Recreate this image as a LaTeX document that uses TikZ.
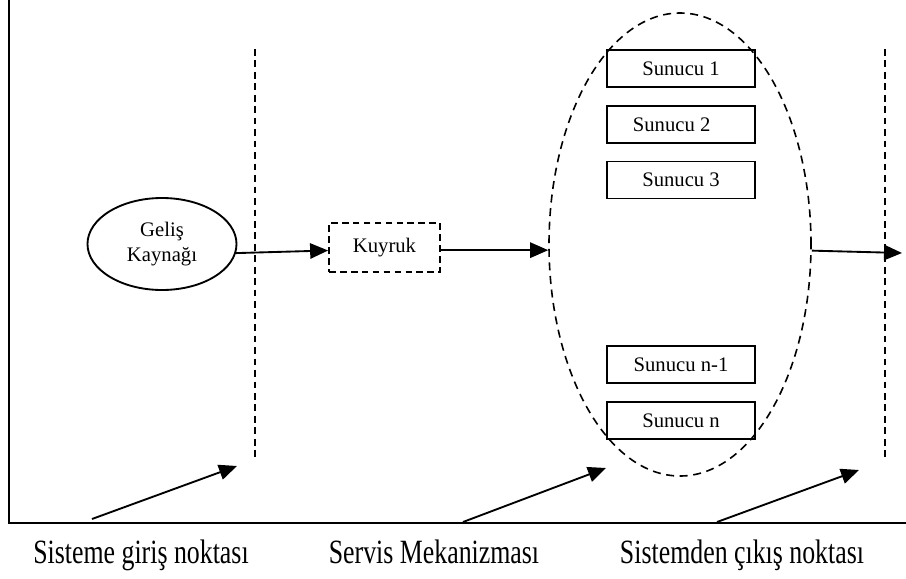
\documentclass[tikz,border=0pt]{standalone}
\usepackage{fontspec}
\setmainfont{Liberation Serif}
\usetikzlibrary{arrows.meta,shapes.geometric,calc}
\begin{document}
\begin{tikzpicture}[x=0.75pt,y=-0.75pt,
  every node/.style={inner sep=0pt, font=\fontsize{15.5}{19}\selectfont},
  frameln/.style={line width=1.6pt},
  dashln/.style={line width=1.3pt, dash pattern=on 5pt off 3.6pt},
  srcell/.style={ellipse, draw, line width=1.4pt, minimum width=111.75pt, minimum height=69pt, align=center},
  qbox/.style={draw, line width=1.3pt, dash pattern=on 5pt off 3.2pt, minimum width=83.25pt, minimum height=36.75pt},
  mechell/.style={ellipse, draw, line width=1.2pt, dash pattern=on 6pt off 4.2pt, minimum width=196.5pt, minimum height=347.25pt},
  srv/.style={draw, line width=1.3pt, minimum width=111pt, minimum height=27.75pt},
  arr/.style={line width=1.4pt, -{Triangle[length=13.5pt,width=11.5pt]}},
  lbl/.style={anchor=base, font=\fontsize{25.5}{30}\selectfont}
]
\useasboundingbox (0,0) rectangle (906,578);

% frame
\draw[frameln] (9,0) -- (9,523) -- (906,523);

% dashed boundary lines
\coordinate (l1t) at (255,49);
\coordinate (l1b) at (255,459);
\coordinate (l2t) at (885,49);
\coordinate (l2b) at (885,458);
\draw[dashln] (l1t) -- (l1b);
\draw[dashln] (l2t) -- (l2b);

% nodes
\node[srcell] (src) at (162,244) {Geliş\\Kaynağı};
\node[qbox] (q) at (384.5,247.5) {Kuyruk};
\node[mechell] (mech) at (680,244.5) {};

\node[srv] (s1) at (681,68.5) {Sunucu 1};
\node[srv] (s2) at (681,124.5) {Sunucu 2\hspace*{14pt}};
\node[srv] (s3) at (681,180) {Sunucu 3};
\node[srv] (sn1) at (681,364.5) {Sunucu n-1};
\node[srv] (sn) at (681,420.5) {Sunucu n};

% flow arrows
\draw[arr] (src.-7) -- ([yshift=-2.25pt]q.west);
\path ([yshift=-2pt]q.east) coordinate (qo);
\draw[arr] (qo) -- (qo -| mech.west);
\coordinate (exit) at (902,253);
\draw[arr] ([yshift=-4.6pt]mech.east) -- (exit);

% pointer arrows
\coordinate (b1s) at (92,519);
\coordinate (b1e) at (237,466);
\coordinate (b2s) at (463,522);
\coordinate (b2e) at (606,468);
\coordinate (b3s) at (717,522);
\coordinate (b3e) at (859,470);
\draw[arr] (b1s) -- (b1e);
\draw[arr] (b2s) -- (b2e);
\draw[arr] (b3s) -- (b3e);

% labels
\node[lbl] (t1) at (141,563) {\scalebox{0.76}[1]{Sisteme giriş noktası}};
\node[lbl] (t2) at (434,563) {\scalebox{0.76}[1]{Servis Mekanizması}};
\node[lbl] (t3) at (742,563) {\scalebox{0.76}[1]{Sistemden çıkış noktası}};
\end{tikzpicture}
\end{document}
